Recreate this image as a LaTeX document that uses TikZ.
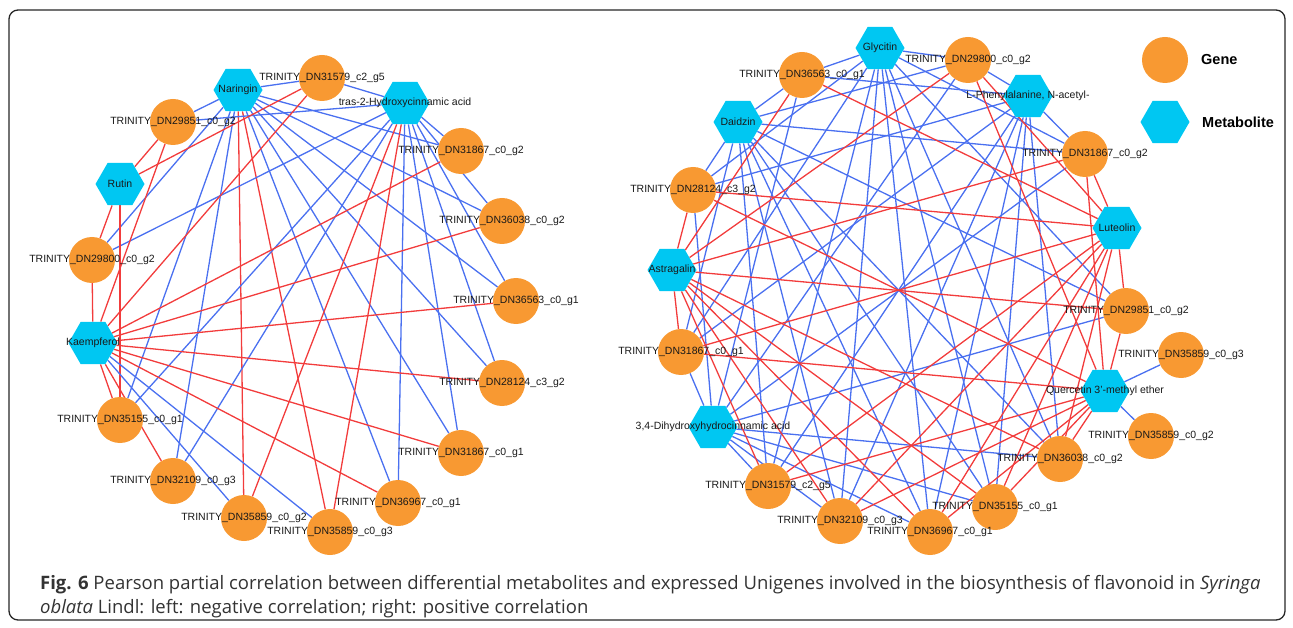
\documentclass[tikz,border=0pt]{standalone}
\usepackage{fontspec}
\setmainfont{Liberation Sans}
\newfontfamily\capfont{Open Sans}
\usetikzlibrary{shapes.geometric, backgrounds}

\definecolor{geneorange}{RGB}{248,153,50}
\definecolor{metacyan}{RGB}{0,199,242}
\definecolor{edgeblue}{RGB}{74,112,240}
\definecolor{edgered}{RGB}{242,60,60}

\tikzset{
  gene/.style={circle, fill=geneorange, minimum size=46pt, inner sep=0pt},
  meta/.style={regular polygon, regular polygon sides=6, fill=metacyan, minimum size=49pt, inner sep=0pt},
  bluelink/.style={draw=edgeblue, line width=1.3pt},
  redlink/.style={draw=edgered, line width=1.3pt},
  every label/.style={font=\fontsize{10.5}{12}\selectfont, text=black!90, inner sep=0pt},
  keytext/.style={font=\fontsize{14.5}{17}\selectfont\bfseries, anchor=west, inner sep=0pt},
  captext/.style={anchor=base west, inner sep=0pt, text=black!80, font=\capfont\fontsize{18.5}{22}\selectfont},
}

\begin{document}
\begin{tikzpicture}[x=1pt, y=-1pt]
  \useasboundingbox (0,0) rectangle (1293,628);
  \draw[line width=1.3pt, black!85, rounded corners=9pt] (9,10) rectangle (1285,620);

  % left network
  \node[meta, label={center:Naringin}] (nar) at (238,90) {};
  \node[gene, label={center:TRINITY\_DN31579\_c2\_g5}] (l31579) at (322,78) {};
  \node[meta, label={center:tras-2-Hydroxycinnamic acid}] (tras) at (405,103) {};
  \node[gene, label={center:TRINITY\_DN29851\_c0\_g2}] (l29851) at (173,122) {};
  \node[gene, label={center:TRINITY\_DN31867\_c0\_g2}] (l31867g2) at (461,151) {};
  \node[meta, label={center:Rutin}] (rut) at (120,184) {};
  \node[gene, label={center:TRINITY\_DN36038\_c0\_g2}] (l36038) at (502,221) {};
  \node[gene, label={center:TRINITY\_DN29800\_c0\_g2}] (l29800) at (92,260) {};
  \node[gene, label={center:TRINITY\_DN36563\_c0\_g1}] (l36563) at (516,301) {};
  \node[meta, label={center:Kaempferol}] (kae) at (93,343) {};
  \node[gene, label={center:TRINITY\_DN28124\_c3\_g2}] (l28124) at (502,383) {};
  \node[gene, label={center:TRINITY\_DN35155\_c0\_g1}] (l35155) at (120,420) {};
  \node[gene, label={center:TRINITY\_DN31867\_c0\_g1}] (l31867g1) at (461,453) {};
  \node[gene, label={center:TRINITY\_DN32109\_c0\_g3}] (l32109) at (173,481) {};
  \node[gene, label={center:TRINITY\_DN36967\_c0\_g1}] (l36967) at (398,503) {};
  \node[gene, label={center:TRINITY\_DN35859\_c0\_g2}] (l35859g2) at (244,518) {};
  \node[gene, label={center:TRINITY\_DN35859\_c0\_g3}] (l35859g3) at (330,532) {};

  % right network
  \node[meta, label={center:Glycitin}] (gly) at (880,48) {};
  \node[gene, label={center:TRINITY\_DN36563\_c0\_g1}] (r36563) at (802,75) {};
  \node[gene, label={center:TRINITY\_DN29800\_c0\_g2}] (r29800) at (968,60) {};
  \node[meta, label={center:{L-Phenylalanine, N-acetyl-}}] (lphe) at (1028,96) {};
  \node[meta, label={center:Daidzin}] (dai) at (738,122) {};
  \node[gene, label={center:TRINITY\_DN31867\_c0\_g2}] (r31867g2) at (1085,154) {};
  \node[gene, label={center:TRINITY\_DN28124\_c3\_g2}] (r28124) at (693,190) {};
  \node[meta, label={center:Luteolin}] (lut) at (1117,228) {};
  \node[meta, label={center:Astragalin}] (ast) at (672,270) {};
  \node[gene, label={center:TRINITY\_DN29851\_c0\_g2}] (r29851) at (1126,311) {};
  \node[gene, label={center:TRINITY\_DN35859\_c0\_g3}] (r35859g3) at (1181,355) {};
  \node[gene, label={center:TRINITY\_DN31867\_c0\_g1}] (r31867g1) at (681,352) {};
  \node[meta, label={center:{Quercetin 3'-methyl ether}}] (que) at (1105,391) {};
  \node[gene, label={center:TRINITY\_DN35859\_c0\_g2}] (r35859g2) at (1151,436) {};
  \node[meta, label={center:{3,4-Dihydroxyhydrocinnamic acid}}] (dhy) at (713,427) {};
  \node[gene, label={center:TRINITY\_DN36038\_c0\_g2}] (r36038) at (1060,459) {};
  \node[gene, label={center:TRINITY\_DN31579\_c2\_g5}] (r31579) at (768,486) {};
  \node[gene, label={center:TRINITY\_DN35155\_c0\_g1}] (r35155) at (995,507) {};
  \node[gene, label={center:TRINITY\_DN32109\_c0\_g3}] (r32109) at (840,521) {};
  \node[gene, label={center:TRINITY\_DN36967\_c0\_g1}] (r36967) at (930,532) {};

  % legend
  \node[gene] (keygene) at (1165,60) {};
  \node[keytext] (keygenetext) at (1201,60) {Gene};
  \node[meta] (keymeta) at (1165,122) {};
  \node[keytext] (keymetatext) at (1202,122) {Metabolite};

  % caption
  \node[captext] (cap1) at (40,589)
    {\textbf{Fig. 6} Pearson partial correlation between differential metabolites and expressed Unigenes involved in the biosynthesis of flavonoid in \textit{Syringa}};
  \node[captext] (cap2) at (40,613)
    {\textit{oblata} Lindl: left: negative correlation; right: positive correlation};

  \begin{scope}[on background layer]
    % left edges
    \path[bluelink] (nar) edge (l31579) edge (l29851) edge (l31867g2) edge (l36038) edge (l36563)
                     edge (l28124) edge (l31867g1) edge (l36967) edge (l29800) edge (l35155) edge (l32109);
    \path[redlink] (nar) edge (l35859g2) edge (l35859g3);
    \path[bluelink] (tras) edge (l31579) edge (l29851) edge (l31867g2) edge (l36038) edge (l36563)
                      edge (l28124) edge (l31867g1) edge (l36967) edge (l29800) edge (l35155) edge (l32109);
    \path[redlink] (tras) edge (l35859g2) edge (l35859g3);
    \path[redlink] (rut) edge (l29851) edge (l29800) edge (l35155) edge (l31579);
    \path[redlink] (kae) edge (l29800) edge (l35155) edge (l32109) edge (l29851) edge (l31579) edge (l31867g2)
                     edge (l36038) edge (l36563) edge (l28124) edge (l31867g1) edge (l36967);
    \path[bluelink] (kae) edge (l35859g2) edge (l35859g3);

    % right edges
    \path[bluelink] (gly) edge (r36563) edge (r28124) edge (r31867g2) edge (r29851) edge (r36038) edge (r35155)
                     edge (r36967) edge (r32109) edge (r31579) edge (r31867g1) edge (r29800);
    \path[bluelink] (dai) edge (r36563) edge (r28124) edge (r29800) edge (r31867g2) edge (r29851) edge (r36038)
                     edge (r35155) edge (r36967) edge (r32109) edge (r31579) edge (r31867g1);
    \path[bluelink] (lphe) edge (r29800) edge (r36563) edge (r28124) edge (r31867g2) edge (r31867g1) edge (r31579)
                      edge (r32109) edge (r36967) edge (r35155) edge (r36038);
    \path[bluelink] (dhy) edge (r31867g1) edge (r31579) edge (r32109) edge (r36967) edge (r35155) edge (r36038)
                     edge (r29851) edge (r28124) edge (r31867g2) edge (r36563) edge (r29800);
    \path[redlink] (ast) edge (r28124) edge (r31867g1) edge (r29851) edge (r31579) edge (r32109) edge (r36967)
                     edge (r35155) edge (r36038) edge (r31867g2) edge (r29800) edge (r36563);
    \path[redlink] (lut) edge (r31867g2) edge (r29851) edge (r36038) edge (r35155) edge (r36967) edge (r32109)
                     edge (r31579) edge (r31867g1) edge (r28124) edge (r36563) edge (r29800);
    \path[redlink] (que) edge (r29851) edge (r36038) edge (r35155) edge (r36967) edge (r32109) edge (r31579)
                     edge (r31867g1) edge (r28124) edge (r31867g2) edge (r29800);
    \path[bluelink] (que) edge (r35859g3) edge (r35859g2);
  \end{scope}
\end{tikzpicture}
\end{document}
